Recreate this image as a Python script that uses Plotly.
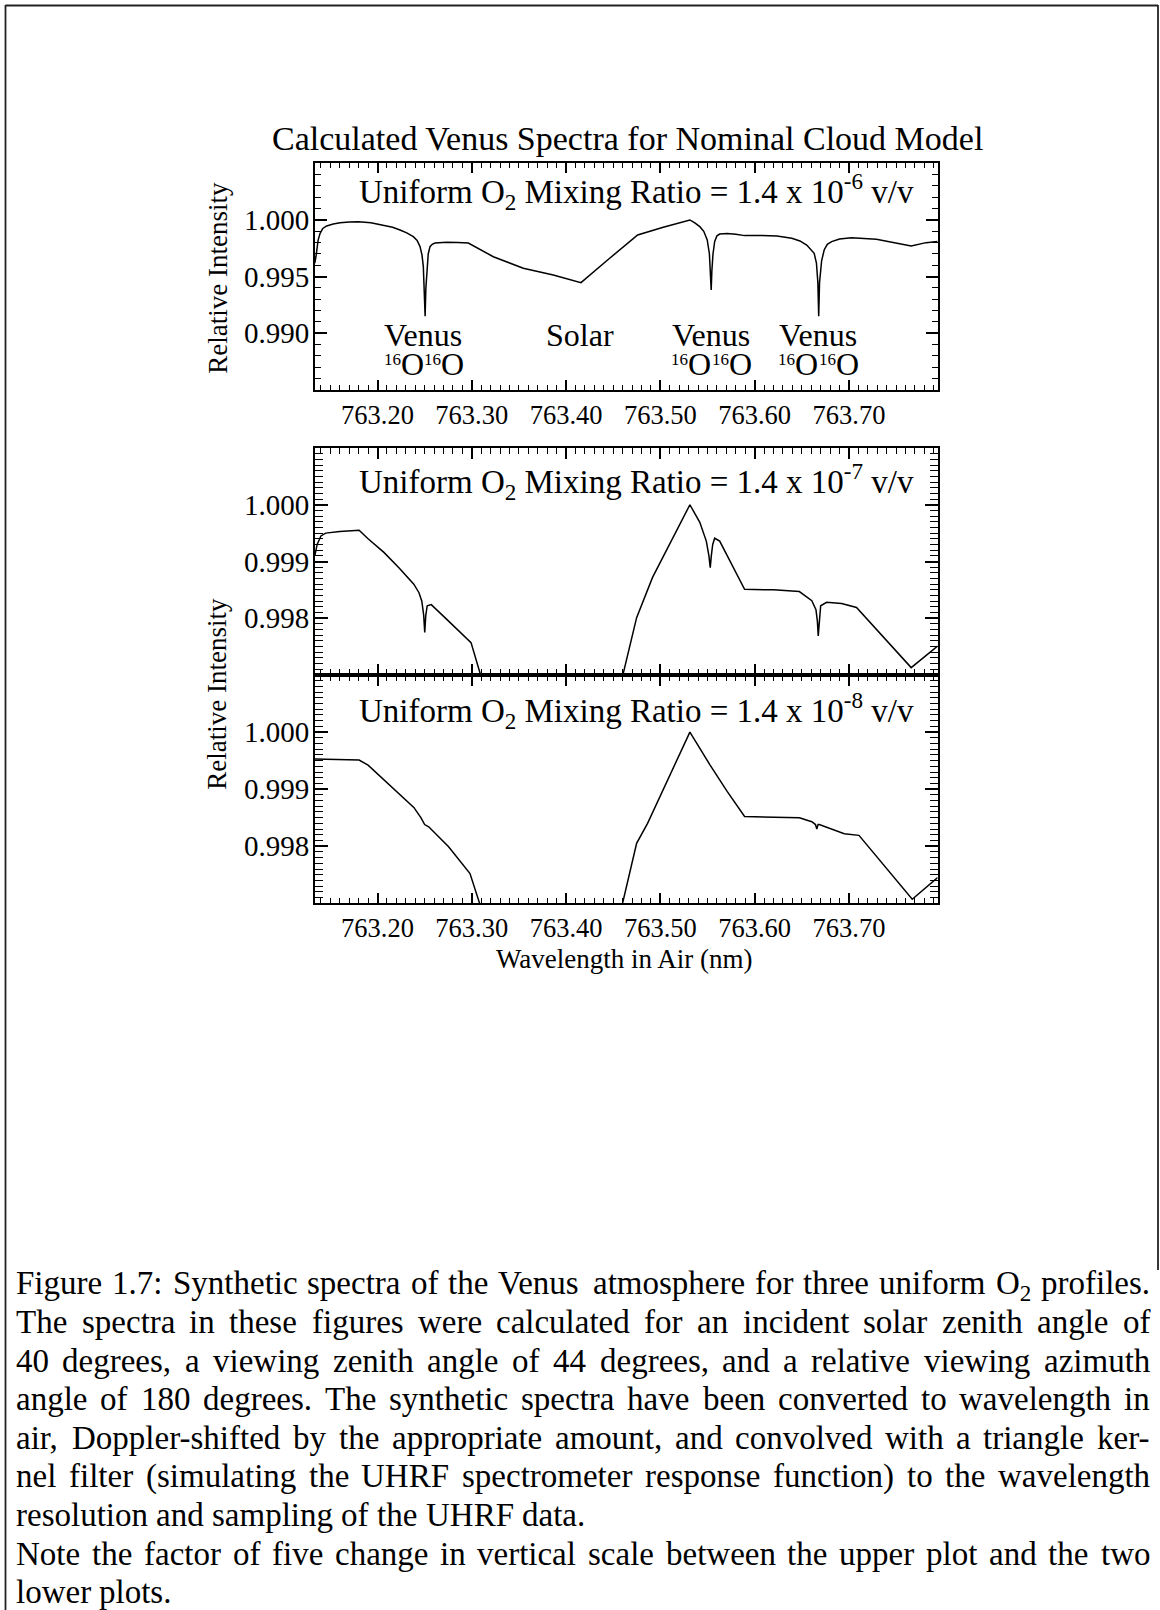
import plotly.graph_objects as go

# ---------------- data ----------------
wl1 = [763.1335, 763.1348, 763.1370, 763.1390, 763.1420, 763.1461, 763.1530, 763.1603,
       763.1700, 763.1797, 763.1930, 763.2062, 763.2160, 763.2239, 763.2310, 763.2380,
       763.2420, 763.2451, 763.2472, 763.2486, 763.2497, 763.2505, 763.2513, 763.2524,
       763.2538, 763.2557, 763.2580, 763.2610, 763.2670, 763.2734, 763.2850, 763.2963,
       763.3228, 763.3546, 763.3864, 763.4158, 763.4459, 763.4759, 763.5030, 763.5313,
       763.5365, 763.5418, 763.5460, 763.5497, 763.5520, 763.5532, 763.5539, 763.5546,
       763.5558, 763.5576, 763.5600, 763.5629, 763.5708, 763.5800, 763.5893, 763.6025,
       763.6236, 763.6394, 763.6480, 763.6552, 763.6600, 763.6631, 763.6655, 763.6670,
       763.6679, 763.6688, 763.6710, 763.6737, 763.6770, 763.6816, 763.6900, 763.7027,
       763.7291, 763.7500, 763.7660, 763.7818, 763.7940]
int1 = [0.99620, 0.99680, 0.99820, 0.99880, 0.99925, 0.99947, 0.99965, 0.99976,
        0.99982, 0.99985, 0.99975, 0.99956, 0.99936, 0.99912, 0.99886, 0.99853,
        0.99820, 0.99765, 0.99690, 0.99588, 0.99400, 0.99150, 0.99400, 0.99588,
        0.99700, 0.99765, 0.99785, 0.99796, 0.99802, 0.99803, 0.99802, 0.99796,
        0.99676, 0.99574, 0.99515, 0.99447, 0.99660, 0.99868, 0.99935, 1.00000,
        0.99975, 0.99941, 0.99900, 0.99824, 0.99700, 0.99550, 0.99382, 0.99550,
        0.99700, 0.99810, 0.99860, 0.99876, 0.99880, 0.99874, 0.99862, 0.99864,
        0.99859, 0.99838, 0.99815, 0.99779, 0.99740, 0.99706, 0.99620, 0.99450,
        0.99150, 0.99450, 0.99640, 0.99735, 0.99785, 0.99809, 0.99832, 0.99844,
        0.99829, 0.99795, 0.99771, 0.99800, 0.99809]

wl2 = [763.1335, 763.1360, 763.1400, 763.1450, 763.1600, 763.1805, 763.1900, 763.2068,
       763.2227, 763.2385, 763.2440, 763.2470, 763.2490, 763.2501, 763.2512, 763.2527,
       763.2570, 763.2650, 763.2754, 763.2992, 763.3097, 763.3200, 763.3546, 763.3864,
       763.4158, 763.4400, 763.4600, 763.4748, 763.4917, 763.5313, 763.5418, 763.5487,
       763.5515, 763.5529, 763.5540, 763.5555, 763.5576, 763.5629, 763.5893, 763.5972,
       763.6200, 763.6474, 763.6606, 763.6650, 763.6665, 763.6674, 763.6683, 763.6700,
       763.6763, 763.6922, 763.7080, 763.7660, 763.7940]
int2 = [0.99910, 0.99930, 0.99945, 0.99950, 0.99953, 0.99955, 0.99940, 0.99916,
        0.99889, 0.99860, 0.99845, 0.99830, 0.99805, 0.99775, 0.99805, 0.99822,
        0.99824, 0.99812, 0.99795, 0.99757, 0.99698, 0.99640, 0.99540, 0.99470,
        0.99400, 0.99560, 0.99698, 0.99801, 0.99872, 1.00000, 0.99969, 0.99936,
        0.99910, 0.99889, 0.99910, 0.99930, 0.99941, 0.99936, 0.99851, 0.99851,
        0.99850, 0.99847, 0.99831, 0.99815, 0.99795, 0.99769, 0.99795, 0.99822,
        0.99828, 0.99826, 0.99819, 0.99713, 0.99751]

wl3 = [763.1335, 763.1805, 763.1900, 763.2068, 763.2230, 763.2385, 763.2460, 763.2491,
       763.2500, 763.2543, 763.2754, 763.2981, 763.3087, 763.3200, 763.3546, 763.3864,
       763.4158, 763.4400, 763.4600, 763.4748, 763.4864, 763.5313, 763.5524, 763.5708,
       763.5893, 763.6474, 763.6606, 763.6645, 763.6659, 763.6672, 763.6685, 763.6950,
       763.7106, 763.7671, 763.7940]
int3 = [0.99953, 0.99951, 0.99942, 0.99916, 0.99892, 0.99868, 0.99850, 0.99840,
        0.99838, 0.99834, 0.99799, 0.99752, 0.99699, 0.99640, 0.99540, 0.99470,
        0.99400, 0.99560, 0.99699, 0.99805, 0.99840, 1.00000, 0.99943, 0.99896,
        0.99852, 0.99850, 0.99843, 0.99838, 0.99830, 0.99838, 0.99838, 0.99822,
        0.99819, 0.99707, 0.99745]

line_labels = ["Venus", "Solar", "Venus", "Venus"]
line_isotope = [True, False, True, True]
isotope_mass = "16"
mixing_exponents = ["-6", "-7", "-8"]
x_ticks = [763.2, 763.3, 763.4, 763.5, 763.6, 763.7]
y_ticks_top = [0.990, 0.995, 1.000]
y_ticks_low = [0.998, 0.999, 1.000]

caption_lines = [
    ("Figure 1.7: Synthetic spectra of the Venus atmosphere for three uniform O<sub>2</sub> profiles.", True),
    ("The spectra in these figures were calculated for an incident solar zenith angle of", True),
    ("40 degrees, a viewing zenith angle of 44 degrees, and a relative viewing azimuth", True),
    ("angle of 180 degrees. The synthetic spectra have been converted to wavelength in", True),
    ("air, Doppler-shifted by the appropriate amount, and convolved with a triangle ker-", True),
    ("nel filter (simulating the UHRF spectrometer response function) to the wavelength", True),
    ("resolution and sampling of the UHRF data.", False),
    ("Note the factor of five change in vertical scale between the upper plot and the two", True),
    ("lower plots.", False),
]

# ---------------- layout helpers ----------------
W, H = 1160, 1610
def px(x):
    return x / W
def py(y):
    return 1 - y / H

SERIF = "Liberation Serif"
XDOM = [px(314.8), px(937.6)]
XR = [763.1335, 763.794]

fig = go.Figure()
for i, (xs, ys) in enumerate([(wl1, int1), (wl2, int2), (wl3, int3)]):
    sfx = "" if i == 0 else str(i + 1)
    fig.add_trace(go.Scatter(x=xs, y=ys, mode="lines",
                             line=dict(color="black", width=1.5),
                             xaxis="x" + sfx, yaxis="y" + sfx,
                             showlegend=False, hoverinfo="skip"))

def xaxis(anchor, labels, tl, mtl):
    return dict(domain=XDOM, range=XR, anchor=anchor, showline=True, mirror="ticks",
                linecolor="black", linewidth=1.5, ticks="inside", ticklen=tl,
                tickwidth=1.5, tickcolor="black", tickmode="array", tickvals=x_ticks,
                tickformat=".2f", showticklabels=labels, ticklabelstandoff=0,
                automargin=False,
                tickfont=dict(family=SERIF, size=26.5, color="black"),
                showgrid=False, zeroline=False,
                minor=dict(ticks="inside", ticklen=mtl, tickwidth=1.2, tickcolor="black",
                           tickmode="linear", dtick=0.01, tick0=763.2, showgrid=False))

def yaxis(anchor, dom, rng, tv, mdt, tl, mtl):
    return dict(domain=dom, range=rng, anchor=anchor, showline=True, mirror="ticks",
                linecolor="black", linewidth=1.5, ticks="inside", ticklen=tl,
                tickwidth=1.5, tickcolor="black", tickmode="array", tickvals=tv,
                tickformat=".3f", ticklabelstandoff=-2, automargin=False,
                tickfont=dict(family=SERIF, size=29, color="black"),
                showgrid=False, zeroline=False,
                minor=dict(ticks="inside", ticklen=mtl, tickwidth=1.2, tickcolor="black",
                           tickmode="linear", dtick=mdt, tick0=1.0, showgrid=False))

fig.update_layout(
    template="none",
    width=W, height=H, margin=dict(l=0, r=0, t=0, b=0, pad=0, autoexpand=False),
    paper_bgcolor="white", plot_bgcolor="white", showlegend=False,
    xaxis=xaxis("y", True, 10, 5),
    xaxis2=xaxis("y2", False, 11, 6),
    xaxis3=xaxis("y3", True, 11, 6),
    yaxis=yaxis("x", [py(390), py(163.3)], [0.985, 1.005], y_ticks_top, 0.001, 12, 6),
    yaxis2=yaxis("x2", [py(675), py(448)], [0.997, 1.001], y_ticks_low, 0.0001, 13, 8),
    yaxis3=yaxis("x3", [py(903.3), py(675)], [0.997, 1.001], y_ticks_low, 0.0001, 13, 8),
)

ann = []
def add(text, x, y, size, xanchor="center", yanchor="middle", angle=0):
    ann.append(dict(text=text, x=px(x), y=py(y), xref="paper", yref="paper",
                    xanchor=xanchor, yanchor=yanchor, showarrow=False, textangle=angle,
                    borderpad=0, font=dict(family=SERIF, size=size, color="black")))

add("Calculated Venus Spectra for Nominal Cloud Model", 627, 138.8, 34)
for e, yy in zip(mixing_exponents, [191, 481.7, 710]):
    add("Uniform O<sub>2</sub> Mixing Ratio = 1.4 x 10<sup>%s</sup> v/v" % e, 636.5, yy, 33)

# line identifications: name, then isotope label built from a small mass number and O
LAB = 32
SUP = 17
for lab, iso, xc in zip(line_labels, line_isotope, [423, 580, 710.6, 817.5]):
    add(lab, xc, 334.5, LAB)
    if iso:
        w_sup = 2 * 0.5 * SUP
        w_o = 0.722 * LAB
        x0 = xc - (2 * w_sup + 2 * w_o) / 2
        for k in range(2):
            add(isotope_mass, x0, 359.5, SUP, xanchor="left")
            x0 += w_sup
            add("O", x0, 364.5, LAB, xanchor="left")
            x0 += w_o

add("Relative Intensity", 217.3, 277.5, 27, angle=-90)
add("Relative Intensity", 217.3, 693.4, 27, angle=-90)
add("Wavelength in Air (nm)", 624.6, 958.8, 27)

# ---------------- caption, justified word by word ----------------
CW = {' ': 250, 'a': 444, 'b': 500, 'c': 444, 'd': 500, 'e': 444, 'f': 333, 'g': 500,
      'h': 500, 'i': 278, 'j': 278, 'k': 500, 'l': 278, 'm': 778, 'n': 500, 'o': 500,
      'p': 500, 'q': 500, 'r': 333, 's': 389, 't': 278, 'u': 500, 'v': 500, 'w': 722,
      'x': 500, 'y': 500, 'z': 444, 'A': 722, 'B': 667, 'C': 667, 'D': 722, 'E': 611,
      'F': 556, 'G': 722, 'H': 722, 'I': 333, 'J': 389, 'K': 722, 'L': 611, 'M': 889,
      'N': 722, 'O': 722, 'P': 556, 'Q': 722, 'R': 667, 'S': 556, 'T': 611, 'U': 722,
      'V': 722, 'W': 944, 'X': 722, 'Y': 722, 'Z': 611, '.': 250, ',': 250, ':': 278,
      ';': 278, '(': 333, ')': 333, '-': 333}
for d in "0123456789":
    CW[d] = 500

CAP = 33
def wwidth(word):
    if "<sub>" in word:
        main = word.replace("<sub>2</sub>", "")
        return (sum(CW.get(c, 500) for c in main) + 0.7 * 500) * CAP / 1000
    return sum(CW.get(c, 500) for c in word) * CAP / 1000

L, R = 15, 1149
for i, (line, just) in enumerate(caption_lines):
    words = line.split(" ")
    widths = [wwidth(w) for w in words]
    if just and len(words) > 1:
        gap = (R - L - sum(widths)) / (len(words) - 1)
    else:
        gap = CW[' '] * CAP / 1000
    center = 1285 + 38.6 * i
    top = center + 0.30 * CAP - 0.891 * CAP - 1
    x = L
    for w, wd in zip(words, widths):
        add(w, x, top, CAP, xanchor="left", yanchor="top")
        x += wd + gap

fig.update_layout(annotations=ann)

# page frame
frame = dict(type="line", xref="paper", yref="paper", line=dict(color="#222", width=1.8))
fig.update_layout(shapes=[
    dict(frame, x0=px(5.5), x1=px(5.5), y0=py(5), y1=py(1610)),
    dict(frame, x0=px(5.5), x1=px(1158), y0=py(5.5), y1=py(5.5)),
    dict(frame, x0=px(1158), x1=px(1158), y0=py(5), y1=py(1270)),
])

fig.write_html("out.html")
